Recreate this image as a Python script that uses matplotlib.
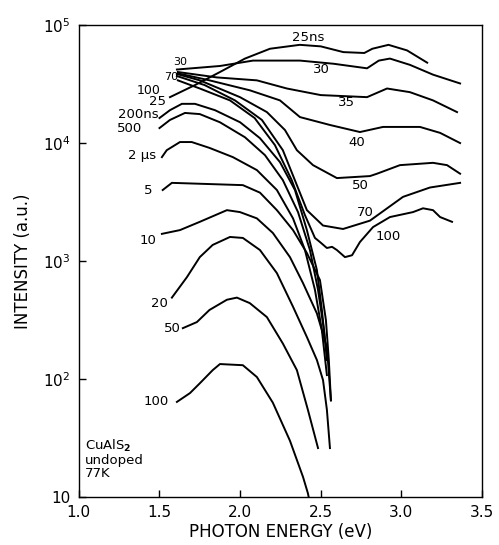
import matplotlib.pyplot as plt
from matplotlib.ticker import FixedLocator, FixedFormatter

# time-resolved PL spectra, CuAlS2 undoped, 77K
# short delays (ns)
e_25ns = [1.565, 1.72, 1.875, 2.03, 2.185, 2.37, 2.5, 2.64, 2.77, 2.82, 2.92, 3.035, 3.16]
i_25ns = [2.45e4, 3.1e4, 4.0e4, 5.2e4, 6.3e4, 6.8e4, 6.6e4, 5.9e4, 5.8e4, 6.3e4, 6.8e4, 6.1e4, 4.8e4]

e_30ns = [1.608, 1.875, 2.08, 2.371, 2.58, 2.787, 2.86, 2.929, 3.053, 3.196, 3.364]
i_30ns = [4.2e4, 4.5e4, 5.0e4, 5.0e4, 4.7e4, 4.3e4, 5.0e4, 5.2e4, 4.6e4, 3.8e4, 3.2e4]

e_35ns = [1.614, 1.856, 2.104, 2.29, 2.5, 2.787, 2.911, 3.053, 3.196, 3.345]
i_35ns = [4.0e4, 3.6e4, 3.4e4, 2.9e4, 2.55e4, 2.45e4, 2.9e4, 2.7e4, 2.3e4, 1.83e4]

e_40ns = [1.614, 1.81, 2.06, 2.247, 2.371, 2.56, 2.743, 2.886, 3.115, 3.24, 3.364]
i_40ns = [3.9e4, 3.4e4, 2.8e4, 2.3e4, 1.66e4, 1.42e4, 1.24e4, 1.37e4, 1.37e4, 1.22e4, 1.0e4]

e_50ns = [1.608, 1.75, 1.999, 2.166, 2.278, 2.352, 2.452, 2.60, 2.805, 2.849, 2.991, 3.196, 3.283, 3.364]
i_50ns = [3.85e4, 3.4e4, 2.45e4, 1.83e4, 1.29e4, 8.7e3, 6.5e3, 5.05e3, 5.25e3, 5.5e3, 6.5e3, 6.8e3, 6.5e3, 5.5e3]

e_70ns = [1.608, 1.78, 1.968, 2.135, 2.265, 2.414, 2.514, 2.638, 2.805, 3.01, 3.177, 3.364]
i_70ns = [3.7e4, 3.1e4, 2.3e4, 1.57e4, 8.7e3, 2.7e3, 2.0e3, 1.87e3, 2.2e3, 3.5e3, 4.2e3, 4.6e3]

e_100ns = [1.614, 1.75, 1.937, 2.09, 2.216, 2.32, 2.402, 2.464, 2.495, 2.538, 2.57, 2.60,
           2.65, 2.694, 2.743, 2.824, 2.929, 3.072, 3.134, 3.196, 3.24, 3.314]
i_100ns = [3.4e4, 2.9e4, 2.3e4, 1.63e4, 9.6e3, 4.85e3, 2.45e3, 1.57e3, 1.45e3, 1.29e3, 1.32e3, 1.24e3,
           1.08e3, 1.12e3, 1.45e3, 1.94e3, 2.36e3, 2.6e3, 2.8e3, 2.7e3, 2.36e3, 2.15e3]

# long delays
e_200ns = [1.50, 1.565, 1.639, 1.72, 1.844, 2.0, 2.123, 2.247, 2.34, 2.414, 2.476, 2.507, 2.526]
i_200ns = [1.63e4, 1.9e4, 2.15e4, 2.15e4, 1.9e4, 1.5e4, 1.1e4, 6.9e3, 4.0e3, 1.83e3, 840, 385, 214]

e_500ns = [1.50, 1.565, 1.658, 1.75, 1.875, 2.03, 2.154, 2.265, 2.359, 2.433, 2.483, 2.52, 2.538]
i_500ns = [1.34e4, 1.57e4, 1.8e4, 1.76e4, 1.5e4, 1.12e4, 7.9e3, 4.85e3, 2.6e3, 1.24e3, 570, 260, 145]

e_2us = [1.515, 1.545, 1.627, 1.70, 1.81, 1.955, 2.104, 2.228, 2.328, 2.402, 2.464, 2.507, 2.538]
i_2us = [7.6e3, 8.7e3, 1.02e4, 1.02e4, 9.1e3, 7.6e3, 5.9e3, 4.0e3, 2.3e3, 1.24e3, 570, 260, 108]

e_5us = [1.52, 1.577, 1.794, 2.017, 2.123, 2.228, 2.328, 2.414, 2.495, 2.532, 2.55, 2.563]
i_5us = [4.0e3, 4.6e3, 4.5e3, 4.4e3, 3.8e3, 2.7e3, 1.83e3, 1.17e3, 690, 316, 145, 66]

e_10us = [1.515, 1.627, 1.75, 1.918, 1.999, 2.104, 2.203, 2.309, 2.39, 2.476, 2.538, 2.563]
i_10us = [1.7e3, 1.83e3, 2.15e3, 2.7e3, 2.6e3, 2.3e3, 1.73e3, 1.08e3, 650, 360, 187, 66]

e_20us = [1.577, 1.67, 1.75, 1.83, 1.937, 2.017, 2.123, 2.228, 2.328, 2.414, 2.476, 2.514, 2.538, 2.557]
i_20us = [490, 730, 1.08e3, 1.37e3, 1.6e3, 1.57e3, 1.24e3, 790, 410, 227, 145, 98, 55, 26]

e_50us = [1.645, 1.732, 1.81, 1.918, 1.98, 2.06, 2.166, 2.265, 2.352, 2.42, 2.483]
i_50us = [270, 304, 385, 470, 490, 440, 335, 200, 119, 55, 26]

e_100us = [1.608, 1.689, 1.75, 1.83, 1.875, 2.017, 2.104, 2.203, 2.309, 2.39, 2.42, 2.46]
i_100us = [64, 76, 92, 119, 134, 131, 104, 63, 30, 14.8, 10.8, 6]

curves = [
    (e_25ns, i_25ns), (e_30ns, i_30ns), (e_35ns, i_35ns), (e_40ns, i_40ns),
    (e_50ns, i_50ns), (e_70ns, i_70ns), (e_100ns, i_100ns),
    (e_200ns, i_200ns), (e_500ns, i_500ns), (e_2us, i_2us), (e_5us, i_5us),
    (e_10us, i_10us), (e_20us, i_20us), (e_50us, i_50us), (e_100us, i_100us),
]

# labels at right side (short delays) and left side (long delays)
right_labels = [("25ns", 2.42, 7.9e4), ("30", 2.507, 4.2e4), ("35", 2.66, 2.2e4),
                ("40", 2.725, 1.02e4), ("50", 2.743, 4.4e3), ("70", 2.774, 2.6e3),
                ("100", 2.917, 1.6e3)]
left_labels = [("30", 1.627, 4.9e4, 8), ("70", 1.57, 3.65e4, 8), ("100", 1.43, 2.8e4, 9),
               ("25", 1.49, 2.25e4, 9.5), ("200ns", 1.366, 1.73e4, 9.5), ("500", 1.316, 1.34e4, 9.5),
               ("2 μs", 1.39, 7.9e3, 9.5), ("5", 1.43, 4.0e3, 9.5), ("10", 1.43, 1.5e3, 9.5),
               ("20", 1.50, 440, 9.5), ("50", 1.58, 270, 9.5), ("100", 1.48, 64, 9.5)]

fig = plt.figure(figsize=(4.99, 5.45), dpi=100)
ax = fig.add_axes([0.158, 0.088, 0.808, 0.866])

for e, i in curves:
    ax.plot(e, i, color='black', lw=1.4)

for txt, x, y in right_labels:
    ax.text(x, y, txt, fontsize=9.5, ha='center', va='center')
for txt, x, y, fs in left_labels:
    ax.text(x, y, txt, fontsize=fs, ha='center', va='center')

ax.text(1.04, 21, "CuAlS$_{\\bf 2}$\nundoped\n77K", fontsize=9.5, ha='left', va='center',
        linespacing=1.0)

ax.set_yscale('log')
ax.set_xlim(1.0, 3.5)
ax.set_ylim(10, 1e5)
ax.yaxis.set_major_locator(FixedLocator([10, 1e2, 1e3, 1e4, 1e5]))
ax.yaxis.set_major_formatter(FixedFormatter(["10", "10$^2$", "10$^3$", "10$^4$", "10$^5$"]))
ax.yaxis.set_minor_locator(FixedLocator([]))
ax.set_xticks([1.0, 1.5, 2.0, 2.5, 3.0, 3.5])
ax.set_xticklabels(["1.0", "1.5", "2.0", "2.5", "3.0", "3.5"])
ax.tick_params(direction='in', length=5, width=1, labelsize=11, pad=6)

ax.set_xlabel("PHOTON ENERGY (eV)", fontsize=12, labelpad=2)
ax.set_ylabel("INTENSITY (a.u.)", fontsize=12, labelpad=8)

for s in ax.spines.values():
    s.set_linewidth(1.0)

fig.savefig("out.png", dpi=100)
